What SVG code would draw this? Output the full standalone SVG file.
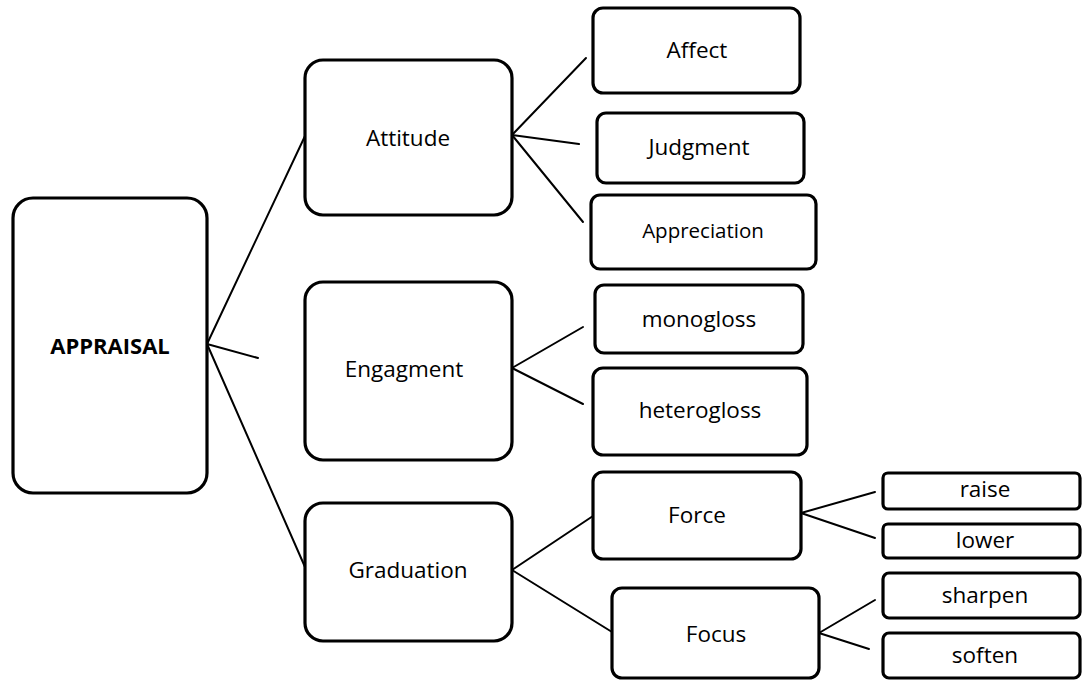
<svg xmlns="http://www.w3.org/2000/svg" width="1083" height="680" viewBox="0 0 1083 680">
<style>
.box{fill:#fff;stroke:#000;stroke-width:3.2}
.lnk{stroke:#000;stroke-width:2;fill:none;stroke-linecap:round}
text{font-family:"Open Sans","Noto Sans","Liberation Sans",sans-serif;fill:#000;text-anchor:middle;font-size:22.5px}
.b{font-weight:bold;font-size:22px}
.sm{font-size:20.5px}
</style>
<rect width="1083" height="680" fill="#fff"/>
<g id="connectors">
<line class="lnk" x1="207" y1="344" x2="305" y2="136"/>
<line class="lnk" x1="207" y1="344" x2="258" y2="358"/>
<line class="lnk" x1="207" y1="344" x2="305" y2="567"/>
<line class="lnk" x1="512" y1="135" x2="586" y2="58"/>
<line class="lnk" x1="512" y1="135" x2="579" y2="144"/>
<line class="lnk" x1="512" y1="135" x2="583" y2="222"/>
<line class="lnk" x1="512" y1="368" x2="583" y2="327"/>
<line class="lnk" x1="512" y1="368" x2="583" y2="404"/>
<line class="lnk" x1="512" y1="570" x2="593" y2="516"/>
<line class="lnk" x1="512" y1="570" x2="612" y2="632"/>
<line class="lnk" x1="801" y1="513" x2="875" y2="492"/>
<line class="lnk" x1="801" y1="513" x2="875" y2="538"/>
<line class="lnk" x1="819" y1="633" x2="875" y2="600"/>
<line class="lnk" x1="819" y1="633" x2="869" y2="649"/>
</g>
<g id="appraisal"><rect class="box" x="13" y="198" width="194" height="295" rx="20"/><text class="b" x="110" y="354">APPRAISAL</text></g>
<g id="attitude"><rect class="box" x="305" y="60" width="207" height="155" rx="18"/><text x="408" y="146">Attitude</text></g>
<g id="engagment"><rect class="box" x="305" y="282" width="207" height="178" rx="18"/><text x="404" y="377">Engagment</text></g>
<g id="graduation"><rect class="box" x="305" y="503" width="207" height="138" rx="18"/><text x="408" y="578">Graduation</text></g>
<g id="affect"><rect class="box" x="593" y="8" width="207" height="85" rx="10"/><text x="697" y="58">Affect</text></g>
<g id="judgment"><rect class="box" x="597" y="113" width="207" height="70" rx="9"/><text x="699" y="155">Judgment</text></g>
<g id="appreciation"><rect class="box" x="591" y="195" width="225" height="74" rx="9"/><text class="sm" x="703" y="238">Appreciation</text></g>
<g id="monogloss"><rect class="box" x="595" y="285" width="208" height="68" rx="9"/><text x="699" y="327">monogloss</text></g>
<g id="heterogloss"><rect class="box" x="593" y="368" width="214" height="87" rx="10"/><text x="700" y="418">heterogloss</text></g>
<g id="force"><rect class="box" x="593" y="472" width="208" height="87" rx="10"/><text x="697" y="523">Force</text></g>
<g id="focus"><rect class="box" x="612" y="588" width="207" height="90" rx="10"/><text x="716" y="642">Focus</text></g>
<g id="raise"><rect class="box" x="883" y="473" width="197" height="36" rx="5"/><text x="985" y="497">raise</text></g>
<g id="lower"><rect class="box" x="883" y="524" width="197" height="34" rx="5"/><text x="985" y="548">lower</text></g>
<g id="sharpen"><rect class="box" x="883" y="573" width="197" height="45" rx="6"/><text x="985" y="603">sharpen</text></g>
<g id="soften"><rect class="box" x="883" y="633" width="197" height="45" rx="6"/><text x="985" y="663">soften</text></g>
</svg>
